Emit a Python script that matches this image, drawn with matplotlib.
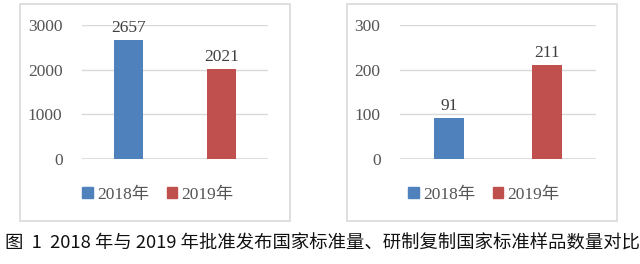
import matplotlib
matplotlib.use("Agg")
import matplotlib.pyplot as plt
from matplotlib.patches import Rectangle

YEARS = ["2018年", "2019年"]
STANDARDS = [2657, 2021]        # 批准发布国家标准量
SAMPLES = [91, 211]             # 研制复制国家标准样品数量
LEFT_TICKS = [0, 1000, 2000, 3000]
RIGHT_TICKS = [0, 100, 200, 300]
CAPTION = "图  1  2018 年与 2019 年批准发布国家标准量、研制复制国家标准样品数量对比"

COLORS = ["#4F81BD", "#C0504D"]
NUM_FONT = ["Liberation Serif", "Noto Sans CJK SC"]
GRID = "#d9d9d9"
FS = 12.5

plt.rcParams["font.family"] = NUM_FONT

fig = plt.figure(figsize=(6.4, 2.64), dpi=100)
W, H = 640, 264


def px_axes(x0, x1, ytop, ybot):
    return fig.add_axes([x0 / W, 1 - ybot / H, (x1 - x0) / W, (ybot - ytop) / H])


def panel(ax, vals, ticks, legend_center):
    xs = range(len(vals))
    bars = ax.bar(xs, vals, width=0.31, color=COLORS, zorder=3)
    top = ticks[-1]
    for b, v in zip(bars, vals):
        ax.text(b.get_x() + b.get_width() / 2, v + top * 0.03, str(v),
                ha="center", va="bottom", fontsize=FS, color="#404040")
    ax.set_xlim(-0.5, 1.5)
    ax.set_ylim(0, top)
    ax.set_yticks(ticks)
    ax.set_yticklabels([str(t) for t in ticks])
    ax.set_xticks([])
    ax.tick_params(axis="y", length=0, pad=14, labelsize=FS, labelcolor="#555555")
    for s in ax.spines.values():
        s.set_visible(False)
    ax.grid(axis="y", color=GRID, lw=1.0, zorder=0)
    ax.axhline(0, color=GRID, lw=1.2, zorder=1)
    handles = [Rectangle((0, 0), 1, 1, color=c) for c in COLORS]
    leg = fig.legend(handles, YEARS, loc="center", ncol=2, frameon=False,
                     bbox_to_anchor=(legend_center / W, 1 - 195 / H),
                     handlelength=0.6, handleheight=0.6, handletextpad=0.25,
                     columnspacing=1.0, fontsize=FS)
    for t in leg.get_texts():
        t.set_color("#555555")


# panel borders
for x0, x1 in ((20, 290), (347, 617)):
    fig.patches.append(Rectangle((x0 / W, 1 - 221 / H), (x1 - x0) / W, 217 / H,
                                 transform=fig.transFigure, fill=False,
                                 edgecolor=GRID, lw=1.2))

axL = px_axes(82, 268, 25, 159)
panel(axL, STANDARDS, LEFT_TICKS, 158)
axR = px_axes(400, 596, 25, 159)
panel(axR, SAMPLES, RIGHT_TICKS, 484)

fig.text(5 / W, 1 - 244 / H, CAPTION, ha="left", va="center", fontsize=13.2,
         family=["Noto Sans CJK SC", "DejaVu Sans"], color="#111111")

fig.savefig("out.png", dpi=100)
